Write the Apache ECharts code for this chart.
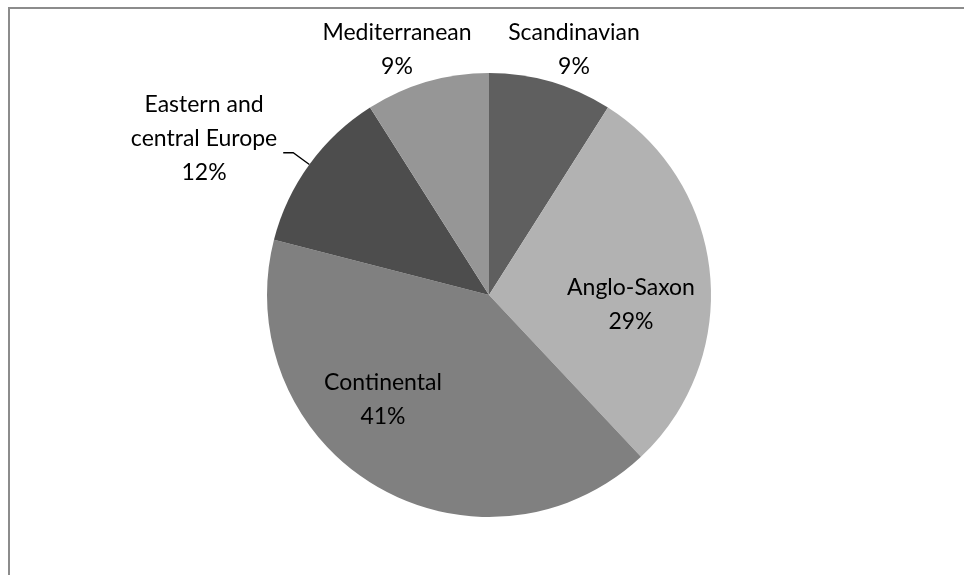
<!DOCTYPE html>
<html>
<head>
<meta charset="utf-8">
<script src="https://cdn.jsdelivr.net/npm/echarts@6/dist/echarts.min.js"></script>
<style>
html,body{margin:0;padding:0;background:#fff;}
#chart{position:absolute;left:0;top:0;width:964px;height:575px;}
#frame{position:absolute;left:8px;top:7px;width:960px;height:575px;border-left:2px solid #8c8c8c;border-top:2px solid #8c8c8c;pointer-events:none;}
</style>
</head>
<body>
<div id="chart"></div>
<div id="frame"></div>
<script>
var categories = ['Scandinavian', 'Anglo-Saxon', 'Continental', 'Eastern and central Europe', 'Mediterranean'];
var shares = [9, 29, 41, 12, 9];
var sliceColors = ['#5f5f5f', '#b2b2b2', '#808080', '#4d4d4d', '#969696'];

var labelMode = ['outside', 'inside', 'inside', 'outside', 'outside'];

var chart = echarts.init(document.getElementById('chart'), null, {renderer: 'canvas'});

var data = categories.map(function (c, i) {
  var item = {
    name: c,
    value: shares[i],
    itemStyle: {color: sliceColors[i]},
    label: {position: labelMode[i]},
    labelLine: {show: i === 3, length: 20, length2: 10}
  };
  if (i === 3) item.label.padding = [0, 0, 28, 0];
  return item;
});

var option = {
  animation: false,
  backgroundColor: '#ffffff',
  series: [{
    type: 'pie',
    center: [489, 295],
    radius: 222,
    startAngle: 90,
    clockwise: true,
    avoidLabelOverlap: false,
    data: data,
    itemStyle: {borderWidth: 0},
    label: {
      show: true,
      fontFamily: 'Lato',
      fontSize: 23,
      lineHeight: 34,
      color: '#000000',
      distanceToLabelLine: 6,
      formatter: function (p) {
        var name = p.name.replace('and ', 'and\n');
        var lines = (name + '\n' + p.value + '%').split('\n');
        return lines.map(function (l) { return '{a|' + l + '}'; }).join('\n');
      },
      rich: {a: {fontFamily: 'Lato', fontSize: 23, lineHeight: 34, color: '#000', align: 'center'}}
    },
    labelLine: {lineStyle: {color: '#000000', width: 1.3}, smooth: false},
    labelLayout: function (p) {
      var i = p.dataIndex;
      if (i === 0) return {x: 574, y: 50, align: 'center', verticalAlign: 'middle'};
      if (i === 4) return {x: 397, y: 50, align: 'center', verticalAlign: 'middle'};
      if (i === 1) return {x: 631, y: 305, align: 'center', verticalAlign: 'middle'};
      if (i === 2) return {x: 383, y: 400, align: 'center', verticalAlign: 'middle'};
      return {};
    }
  }]
};
chart.setOption(option);
</script>
</body>
</html>
